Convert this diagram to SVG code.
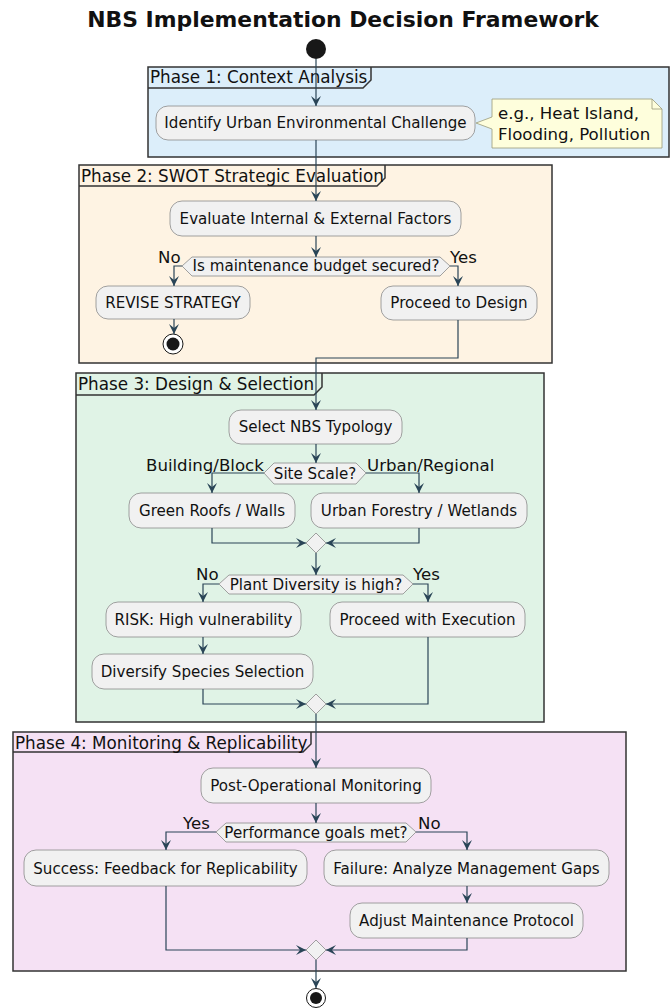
<svg xmlns="http://www.w3.org/2000/svg" width="670" height="1008" viewBox="0 0 670 1008">
<style>
.t{font-family:"DejaVu Sans",sans-serif;fill:#111}
.title{font-size:21.9px;font-weight:bold;text-anchor:middle}
.node rect{fill:#F1F1F1;stroke:#8a8a8a;stroke-width:0.8}
.node text{font-family:"DejaVu Sans",sans-serif;font-size:15.1px;fill:#111;text-anchor:middle}
.hex polygon{fill:#F1F1F1;stroke:#8a8a8a;stroke-width:0.8}
.hex text{font-family:"DejaVu Sans",sans-serif;font-size:15.1px;fill:#111;text-anchor:middle}
.lbl{font-family:"DejaVu Sans",sans-serif;font-size:16.6px;fill:#111}
.frame .box{stroke:#333;stroke-width:1.5}
.frame .tab{fill:none;stroke:#333;stroke-width:1.5}
.frame text{font-family:"DejaVu Sans",sans-serif;font-size:16.8px;fill:#111}
.conn path{fill:none;stroke:#2A4557;stroke-width:1.2}
.merge{fill:#F1F1F1;stroke:#8a8a8a;stroke-width:0.8}
</style>
<defs>
<marker id="ah" markerUnits="userSpaceOnUse" markerWidth="12" markerHeight="10" refX="10" refY="5" orient="auto" viewBox="0 0 12 10">
<path d="M0,0 L10,5 L0,10 L4,5 Z" fill="#2A4557"/>
</marker>
</defs>
<rect width="670" height="1008" fill="#fff"/>
<text class="t title" x="343" y="27">NBS Implementation Decision Framework</text>

<g id="phase1" class="frame">
<rect class="box" x="148" y="67" width="521" height="90" fill="#DCEEFA"/>
<path class="tab" d="M148,88 L363,88 L371,80 L371,67"/>
<text x="150" y="83">Phase 1: Context Analysis</text>
</g>
<g id="phase2" class="frame">
<rect class="box" x="79" y="165" width="473" height="198" fill="#FEF3E3"/>
<path class="tab" d="M79,186 L377,186 L385,178 L385,165"/>
<text x="81" y="182">Phase 2: SWOT Strategic Evaluation</text>
</g>
<g id="phase3" class="frame">
<rect class="box" x="76" y="373" width="468" height="349" fill="#E0F3E6"/>
<path class="tab" d="M76,395 L314,395 L322,387 L322,373"/>
<text x="78" y="390">Phase 3: Design &amp; Selection</text>
</g>
<g id="phase4" class="frame">
<rect class="box" x="13" y="732" width="613" height="239" fill="#F5E1F4"/>
<path class="tab" d="M13,752 L303,752 L311,744 L311,732"/>
<text x="15" y="749">Phase 4: Monitoring &amp; Replicability</text>
</g>

<g id="start"><circle cx="316" cy="49" r="10" fill="#181818"/></g>

<g id="n_identify" class="node"><rect x="156" y="106" width="319" height="34" rx="12"/><text x="315.5" y="128">Identify Urban Environmental Challenge</text></g>
<g id="note1">
<path d="M492,99 L652,99 L662,109 L662,148 L492,148 L492,129 L476,123 L492,117 Z" fill="#FEFEDC" stroke="#9a9a7a" stroke-width="0.8"/>
<path d="M652,99 L652,109 L662,109" fill="none" stroke="#9a9a7a" stroke-width="0.8"/>
<text class="lbl" x="498" y="119">e.g., Heat Island,</text>
<text class="lbl" x="498" y="140">Flooding, Pollution</text>
</g>

<g id="n_evaluate" class="node"><rect x="170" y="201" width="291" height="35" rx="12"/><text x="315.5" y="224">Evaluate Internal &amp; External Factors</text></g>
<g id="d_budget" class="hex"><polygon points="182,266 192,257 440,257 450,266 440,276 192,276"/><text x="316" y="271">Is maintenance budget secured?</text></g>
<text class="lbl" x="158" y="263">No</text>
<text class="lbl" x="450" y="263">Yes</text>
<g id="n_revise" class="node"><rect x="96" y="286" width="154" height="33" rx="12"/><text x="173" y="308">REVISE STRATEGY</text></g>
<g id="end1"><circle cx="173" cy="344" r="10" fill="#fff" stroke="#181818" stroke-width="1"/><circle cx="173" cy="344" r="6.5" fill="#181818"/></g>
<g id="n_proceed_design" class="node"><rect x="381" y="286" width="156" height="34" rx="12"/><text x="459" y="308">Proceed to Design</text></g>

<g id="n_select" class="node"><rect x="229" y="410" width="173" height="34" rx="12"/><text x="315.5" y="432">Select NBS Typology</text></g>
<g id="d_scale" class="hex"><polygon points="264,473 274,463 356,463 366,473 356,484 274,484"/><text x="315" y="479">Site Scale?</text></g>
<text class="lbl" x="146" y="471">Building/Block</text>
<text class="lbl" x="367" y="471">Urban/Regional</text>
<g id="n_green" class="node"><rect x="129" y="493" width="166" height="35" rx="12"/><text x="212" y="516">Green Roofs / Walls</text></g>
<g id="n_forestry" class="node"><rect x="311" y="493" width="216" height="35" rx="12"/><text x="419" y="516">Urban Forestry / Wetlands</text></g>
<g id="m1"><polygon class="merge" points="316,533 326,543 316,553 306,543"/></g>
<g id="d_diversity" class="hex"><polygon points="219,584 229,575 403,575 413,584 403,594 229,594"/><text x="316" y="590">Plant Diversity is high?</text></g>
<text class="lbl" x="196" y="580">No</text>
<text class="lbl" x="413" y="580">Yes</text>
<g id="n_risk" class="node"><rect x="106" y="602" width="195" height="35" rx="12"/><text x="203.5" y="625">RISK: High vulnerability</text></g>
<g id="n_diversify" class="node"><rect x="92" y="654" width="221" height="35" rx="12"/><text x="202.5" y="677">Diversify Species Selection</text></g>
<g id="n_execution" class="node"><rect x="330" y="602" width="195" height="35" rx="12"/><text x="427.5" y="625">Proceed with Execution</text></g>
<g id="m2"><polygon class="merge" points="316,694 326,704 316,714 306,704"/></g>

<g id="n_monitor" class="node"><rect x="201" y="768" width="230" height="35" rx="12"/><text x="316" y="791">Post-Operational Monitoring</text></g>
<g id="d_perf" class="hex"><polygon points="216,832 226,823 406,823 416,832 406,842 226,842"/><text x="316" y="838">Performance goals met?</text></g>
<text class="lbl" x="183" y="829">Yes</text>
<text class="lbl" x="418" y="829">No</text>
<g id="n_success" class="node"><rect x="24" y="850" width="283" height="36" rx="12"/><text x="165.5" y="874">Success: Feedback for Replicability</text></g>
<g id="n_failure" class="node"><rect x="324" y="850" width="285" height="36" rx="12"/><text x="466.5" y="874">Failure: Analyze Management Gaps</text></g>
<g id="n_adjust" class="node"><rect x="350" y="903" width="233" height="35" rx="12"/><text x="466.5" y="926">Adjust Maintenance Protocol</text></g>
<g id="m3"><polygon class="merge" points="316,940 326,950 316,960 306,950"/></g>
<g id="end2"><circle cx="316" cy="998" r="9.5" fill="#fff" stroke="#181818" stroke-width="1"/><circle cx="316" cy="998" r="6" fill="#181818"/></g>

<g id="connectors" class="conn">
<path d="M316,59 L316,106" marker-end="url(#ah)"/>
<path d="M316,140 L316,201" marker-end="url(#ah)"/>
<path d="M316,236 L316,257" marker-end="url(#ah)"/>
<path d="M182,266 L174,266 L174,286" marker-end="url(#ah)"/>
<path d="M174,319 L174,334" marker-end="url(#ah)"/>
<path d="M450,266 L458,266 L458,286" marker-end="url(#ah)"/>
<path d="M458,320 L458,358 L316,358 L316,410" marker-end="url(#ah)"/>
<path d="M316,444 L316,463" marker-end="url(#ah)"/>
<path d="M264,473 L212,473 L212,493" marker-end="url(#ah)"/>
<path d="M366,473 L419,473 L419,493" marker-end="url(#ah)"/>
<path d="M212,528 L212,543 L306,543" marker-end="url(#ah)"/>
<path d="M419,528 L419,543 L326,543" marker-end="url(#ah)"/>
<path d="M316,553 L316,575" marker-end="url(#ah)"/>
<path d="M219,584 L203,584 L203,602" marker-end="url(#ah)"/>
<path d="M203,637 L203,654" marker-end="url(#ah)"/>
<path d="M413,584 L428,584 L428,602" marker-end="url(#ah)"/>
<path d="M203,689 L203,704 L306,704" marker-end="url(#ah)"/>
<path d="M428,637 L428,704 L326,704" marker-end="url(#ah)"/>
<path d="M316,714 L316,768" marker-end="url(#ah)"/>
<path d="M316,803 L316,823" marker-end="url(#ah)"/>
<path d="M216,832 L166,832 L166,850" marker-end="url(#ah)"/>
<path d="M416,832 L467,832 L467,850" marker-end="url(#ah)"/>
<path d="M467,886 L467,903" marker-end="url(#ah)"/>
<path d="M166,886 L166,950 L306,950" marker-end="url(#ah)"/>
<path d="M467,938 L467,950 L326,950" marker-end="url(#ah)"/>
<path d="M316,960 L316,988" marker-end="url(#ah)"/>
</g>
</svg>
